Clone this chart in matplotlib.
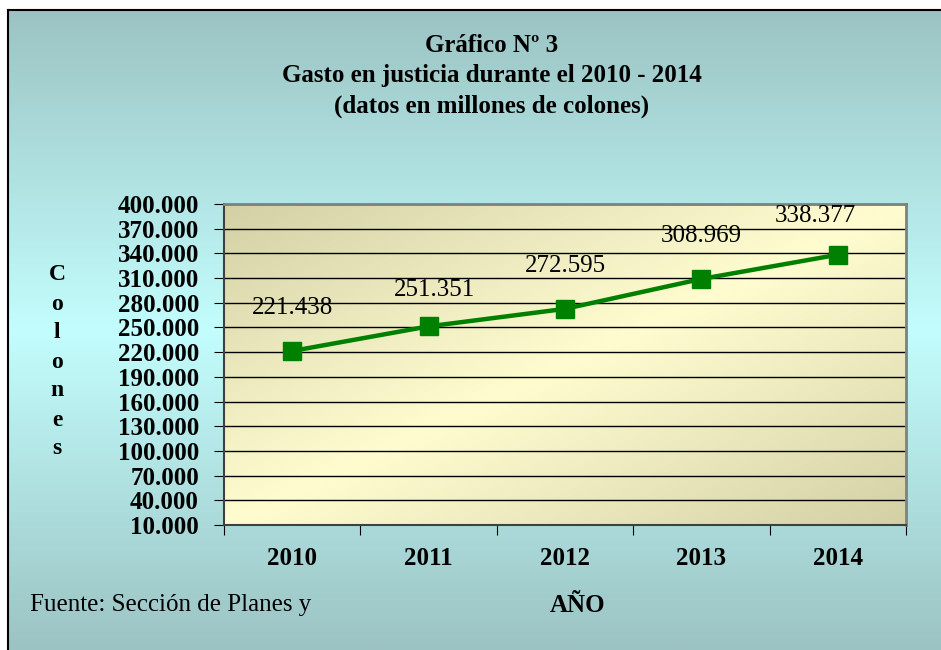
import numpy as np
import matplotlib
matplotlib.use("Agg")
import matplotlib.pyplot as plt
from matplotlib.colors import LinearSegmentedColormap
from matplotlib.ticker import FuncFormatter

years = ['2010', '2011', '2012', '2013', '2014']
gasto = [221438, 251351, 272595, 308969, 338377]
etiquetas = ['221.438', '251.351', '272.595', '308.969', '338.377']
y_ticks = list(range(10000, 400001, 30000))

plt.rcParams['font.family'] = ['Liberation Serif', 'DejaVu Serif']

W, H, DPI = 941, 650, 100
fig = plt.figure(figsize=(W / DPI, H / DPI), dpi=DPI)
fig.patch.set_facecolor('white')

# figure background: vertical teal gradient inside a black border
bg = fig.add_axes([8 / W, 0, 1 - 8 / W, 1 - 10 / H], zorder=-10)
cmap_bg = LinearSegmentedColormap.from_list(
    'bg', ['#9cc3c3', '#c3fdfd', '#9cc3c3'])
grad = np.linspace(0, 1, 256).reshape(-1, 1)
bg.imshow(grad, aspect='auto', cmap=cmap_bg, extent=(0, 1, 0, 1), origin='upper')
bg.set_xlim(0, 1)
bg.set_ylim(0, 1)
bg.set_xticks([])
bg.set_yticks([])
for side in ['right', 'bottom']:
    bg.spines[side].set_visible(False)
for side in ['left', 'top']:
    bg.spines[side].set_linewidth(1.5)
    bg.spines[side].set_color('black')

# plot area
left, right, top, bottom = 224, 906, 204, 525
ax = fig.add_axes([left / W, 1 - bottom / H, (right - left) / W, (bottom - top) / H])

# diagonal khaki / light-yellow gradient in the plot area
cmap_pa = LinearSegmentedColormap.from_list(
    'pa', ['#d3d0a6', '#fffdd0', '#d3d0a6'])
gx, gy = np.meshgrid(np.linspace(0, 1, 200), np.linspace(0, 1, 200))
diag = (gx + gy) / 2.0
ax.imshow(diag, aspect='auto', cmap=cmap_pa, extent=(-0.5, 4.5, 400000, 10000),
          origin='lower', zorder=0, vmin=0, vmax=1)

x = np.arange(len(years))
ax.plot(x, gasto, color='#008000', lw=3.2, marker='s', ms=13,
        markerfacecolor='#008000', markeredgecolor='#008000', zorder=4)

offsets = [(0, 31), (4, 26), (0, 31), (0, 31), (-16, 28)]
for xi, yi, lab, off in zip(x, gasto, etiquetas, offsets):
    ax.annotate(lab, (xi, yi), xytext=off, textcoords='offset points',
                ha='center', va='center', fontsize=18, zorder=5)

ax.set_xlim(-0.5, 4.5)
ax.set_ylim(10000, 400000)
ax.set_yticks(y_ticks)
ax.yaxis.set_major_formatter(FuncFormatter(lambda v, p: f"{int(v):,}".replace(',', '.')))
ax.grid(axis='y', color='black', lw=1)
for gl in ax.get_ygridlines():
    gl.set_zorder(1)

ax.set_xticks(np.arange(-0.5, 5, 1))
ax.set_xticklabels([])
ax.set_xticks(x, minor=True)
ax.set_xticklabels(years, minor=True, fontsize=18, fontweight='bold')
ax.tick_params(axis='x', which='minor', length=0, pad=16)
ax.tick_params(axis='x', which='major', length=7, direction='out', color='black')
ax.tick_params(axis='y', length=7, direction='out', color='black', pad=11,
               labelsize=18)
for t in ax.get_yticklabels():
    t.set_fontweight('bold')

for side in ['top', 'right']:
    ax.spines[side].set_color('#808080')
    ax.spines[side].set_linewidth(2)
ax.spines['left'].set_color('#404040')
ax.spines['bottom'].set_color('#404040')
ax.spines['left'].set_linewidth(1.5)
ax.spines['bottom'].set_linewidth(1.5)

fig.text(492 / W, 1 - 76 / H,
         'Gráfico Nº 3\nGasto en justicia durante el 2010 - 2014\n(datos en millones de colones)',
         ha='center', va='center', fontsize=18, fontweight='bold', linespacing=1.38)

fig.text(57 / W, 1 - 362 / H, '\n'.join('Colones'), ha='center', va='center',
         fontsize=17, fontweight='bold', linespacing=1.5)

fig.text(578 / W, 1 - 605 / H, 'AÑO', ha='center', va='center',
         fontsize=18, fontweight='bold')
fig.text(30 / W, 1 - 605 / H, 'Fuente: Sección de Planes y', ha='left', va='center',
         fontsize=18)

fig.savefig('out.png', dpi=DPI, facecolor=fig.get_facecolor())
